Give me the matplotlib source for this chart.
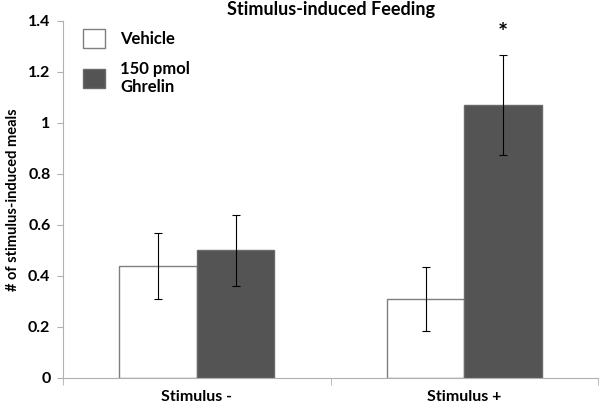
import numpy as np
import matplotlib.pyplot as plt

plt.rcParams['font.family'] = ['Lato', 'DejaVu Sans']
plt.rcParams['font.weight'] = 'bold'

categories = ['Stimulus -', 'Stimulus +']
vehicle = [0.44, 0.31]
vehicle_err = [0.13, 0.125]
ghrelin = [0.50, 1.07]
ghrelin_err = [0.14, 0.195]

x = np.array([0.5, 1.5])
w = 0.29

fig = plt.figure(figsize=(6, 4.09), dpi=100)
ax = fig.add_axes([0.105, 0.0758, 0.892, 0.873])

ax.bar(x - w/2, vehicle, w, color='white', edgecolor='#7f7f7f', linewidth=1, label='Vehicle')
ax.bar(x + w/2, ghrelin, w, color='#545454', edgecolor='#6a6a6a', linewidth=1, label='150 pmol\nGhrelin')
ax.errorbar(x - w/2, vehicle, yerr=vehicle_err, fmt='none', ecolor='black', elinewidth=0.8, capsize=3, capthick=0.8)
ax.errorbar(x + w/2, ghrelin, yerr=ghrelin_err, fmt='none', ecolor='black', elinewidth=0.8, capsize=3, capthick=0.8)

# significance marker
ax.text(x[1] + w/2, 1.35, '*', ha='center', va='center', fontsize=17, fontweight='bold')

ax.set_xlim(0, 2)
ax.set_ylim(0, 1.4)
ax.set_yticks(np.arange(0, 1.41, 0.2))
ax.set_yticklabels(['0', '0.2', '0.4', '0.6', '0.8', '1', '1.2', '1.4'])
ax.set_xticks(x)
ax.set_xticklabels(categories, fontsize=11.5, fontweight='bold')
ax.set_xticks([0, 1, 2], minor=True)
ax.tick_params(axis='x', which='major', length=0, pad=9)
ax.tick_params(axis='x', which='minor', length=5, color='#b0b0b0')
ax.tick_params(axis='y', length=4, color='#b0b0b0', labelsize=11.5, pad=5)
for lab in ax.get_yticklabels():
    lab.set_fontweight('bold')

for s in ['top', 'right']:
    ax.spines[s].set_visible(False)
for s in ['left', 'bottom']:
    ax.spines[s].set_color('#b0b0b0')

ax.set_ylabel('# of stimulus-induced meals', fontsize=10.5, fontweight='bold', labelpad=6)
ax.set_title('Stimulus-induced Feeding', fontsize=13, fontweight='bold', pad=4)

ax.legend(loc='upper left', bbox_to_anchor=(0.01, 1.02), frameon=False, fontsize=12,
          handlelength=1.3, handleheight=1.4, labelspacing=0.75, handletextpad=0.9)

fig.savefig('out.png', dpi=100)
